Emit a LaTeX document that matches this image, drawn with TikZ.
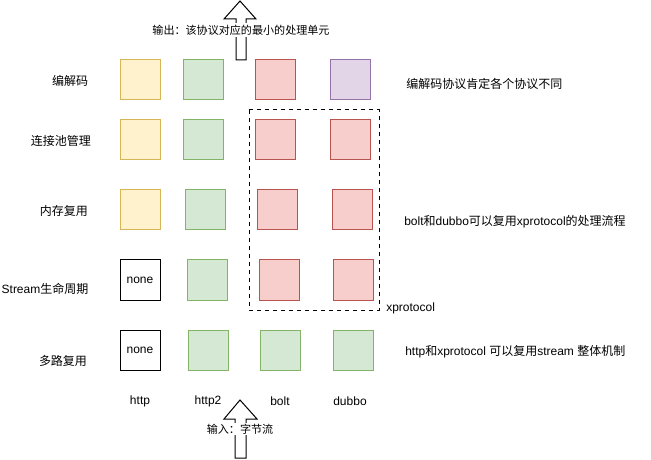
\documentclass[tikz,border=0pt]{standalone}
\usepackage{fontspec}
\setmainfont{Liberation Sans}
\newfontfamily\cjk{Noto Sans CJK SC}
\newcommand\zh[1]{{\cjk #1}}
\definecolor{yfill}{HTML}{FFF2CC}\definecolor{ydraw}{HTML}{D6B656}
\definecolor{gfill}{HTML}{D5E8D4}\definecolor{gdraw}{HTML}{82B366}
\definecolor{rfill}{HTML}{F8CECC}\definecolor{rdraw}{HTML}{B85450}
\definecolor{pfill}{HTML}{E1D5E7}\definecolor{pdraw}{HTML}{9673A6}
\tikzset{
  box/.style={draw, line width=0.75pt, minimum width=30pt, minimum height=30pt, inner sep=0pt, font=\fontsize{9}{11}\selectfont},
  ybox/.style={box, fill=yfill, draw=ydraw},
  gbox/.style={box, fill=gfill, draw=gdraw},
  rbox/.style={box, fill=rfill, draw=rdraw},
  pbox/.style={box, fill=pfill, draw=pdraw},
  nbox/.style={box, fill=white, draw=black},
  lbl/.style={inner sep=0pt, font=\fontsize{9}{11}\selectfont},
  alab/.style={inner sep=1pt, fill=white, font=\fontsize{8.3}{10}\selectfont},
  bigarrow/.style={draw=black, fill=white, line width=0.75pt},
}
\begin{document}
\begin{tikzpicture}[x=0.75pt, y=-0.75pt]
\useasboundingbox (0,0) rectangle (651,460);
% arrows
\draw[bigarrow] (236,60) -- (236,19) -- (224,19) -- (240,1) -- (256,19) -- (246,19) -- (246,60) -- cycle;
\draw[bigarrow] (235,458) -- (235,419) -- (224,419) -- (240,400) -- (257,419) -- (246,419) -- (246,458) -- cycle;
\node[alab] (outlbl) at (241,30) {\zh{输出：该协议对应的最小的处理单元}};
\node[alab] (inlbl) at (240,429) {\zh{输入：字节流}};
% row labels
\node[lbl] (r1) at (70,81) {\zh{编解码}};
\node[lbl] (r2) at (61,141) {\zh{连接池管理}};
\node[lbl] (r3) at (64,211) {\zh{内存复用}};
\node[lbl] (r4) at (45,289) {Stream\zh{生命周期}};
\node[lbl] (r5) at (63,361) {\zh{多路复用}};
% dashed region
\draw[dashed, line width=0.75pt] (249,110) rectangle (379,310);
\node[lbl, anchor=west] (xp) at (386,308) {xprotocol};
% boxes
\node[ybox] (a1) at (140,80) {};
\node[gbox] (b1) at (203,80) {};
\node[rbox] (c1) at (275,80) {};
\node[pbox] (d1) at (350,80) {};
\node[ybox] (a2) at (140,140) {};
\node[gbox] (b2) at (203,140) {};
\node[rbox] (c2) at (275,140) {};
\node[rbox] (d2) at (350,140) {};
\node[ybox] (a3) at (140,210) {};
\node[gbox] (b3) at (205,210) {};
\node[rbox] (c3) at (277,210) {};
\node[rbox] (d3) at (352,210) {};
\node[nbox] (a4) at (140,280) {none};
\node[gbox] (b4) at (207,280) {};
\node[rbox] (c4) at (279,280) {};
\node[rbox] (d4) at (353,280) {};
\node[nbox] (a5) at (140,350) {none};
\node[gbox] (b5) at (208,350) {};
\node[gbox] (c5) at (280,350) {};
\node[gbox] (d5) at (353,350) {};
% column labels
\node[lbl] (chttp) at (140,401) {http};
\node[lbl] (chttp2) at (208,401) {http2};
\node[lbl] (cbolt) at (280,401) {bolt};
\node[lbl] (cdubbo) at (350,401) {dubbo};
% right notes
\node[lbl, anchor=west] (n1) at (406,84) {\zh{编解码协议肯定各个协议不同}};
\node[lbl, anchor=west] (n2) at (404,222) {bolt\zh{和}dubbo\zh{可以复用}xprotocol\zh{的处理流程}};
\node[lbl, anchor=west] (n3) at (405,352) {http\zh{和}xprotocol \zh{可以复用}stream \zh{整体机制}};
\end{tikzpicture}
\end{document}
